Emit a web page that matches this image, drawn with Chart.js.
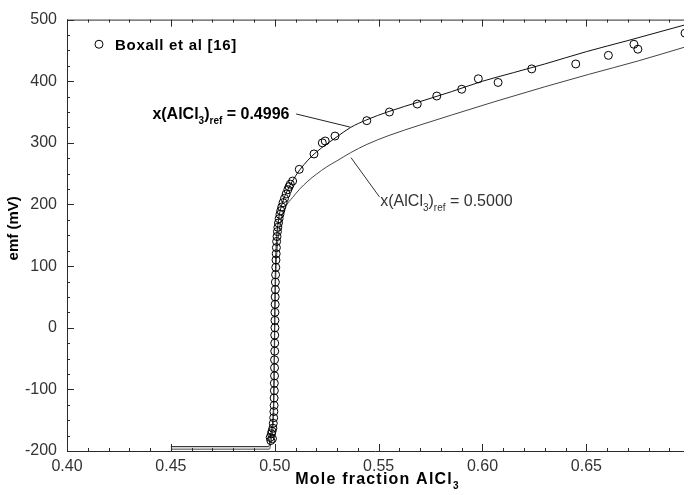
<!DOCTYPE html>
<html><head><meta charset="utf-8">
<script src="https://cdn.jsdelivr.net/npm/chart.js@4.4.1/dist/chart.umd.min.js"></script>
<style>html,body{margin:0;padding:0;background:#fff;overflow:hidden}canvas{display:block}</style>
</head><body>
<canvas id="c" width="689" height="495"></canvas>
<script>
// ---- data ----
const xTickLabels = ['0.40','0.45','0.50','0.55','0.60','0.65'];
const yTickLabels = ['-200','-100','0','100','200','300','400','500'];

const boxallX = [0.4978,0.4981,0.4984,0.4987,0.4989,0.4991,0.4993,0.4995,0.4996,0.4997,0.4997,0.4998,0.4998,0.4999,0.4999,0.4999,0.5000,0.5000,0.5000,0.5001,0.5001,0.5001,0.5002,0.5002,0.5003,0.5003,0.5004,0.5005,0.5006,0.5007,0.5008,0.5009,0.5011,0.5013,0.5015,0.5018,0.5021,0.5025,0.5029,0.5034,0.5040,0.5047,0.5055,0.5063,0.5069,0.5075,0.5086,0.5118,0.5189,0.5229,0.5243,0.5290,0.5443,0.5552,0.5686,0.5780,0.5900,0.5980,0.6075,0.6237,0.6449,0.6606,0.6729,0.6748,0.6975];
const boxallY = [-178,-183,-172,-168,-180,-163,-155,-146,-136,-126,-114,-102,-90,-78,-65,-52,-38,-25,-12,0,12,25,38,50,62,74,86,98,110,120,130,140,148,156,163,170,177,184,190,196,203,210,217,224,229,233,238,257,282,300,303,311,336,350,363,376,387,404,398,420,428,442,460,452,478];

const fitUpperX = [0.4500,0.4970,0.4974,0.4978,0.4984,0.4990,0.4994,0.4997,0.4999,0.5001,0.5003,0.5006,0.5010,0.5016,0.5025,0.5040,0.5060,0.5085,0.5120,0.5160,0.5200,0.5250,0.5300,0.5365,0.5440,0.5550,0.5700,0.5850,0.6000,0.6150,0.6300,0.6500,0.6700,0.6970];
const fitUpperY = [-193,-193,-190,-180,-168,-152,-125,-60,0,50,90,125,150,170,188,206,222,238,256,272,285,298,310,325,337,351,367,383,400,414,428,448,466,491];

const fitLowerX = [0.4500,0.4974,0.4980,0.4986,0.4992,0.4996,0.4999,0.5001,0.5003,0.5006,0.5010,0.5016,0.5025,0.5035,0.5055,0.5085,0.5120,0.5160,0.5200,0.5250,0.5300,0.5365,0.5440,0.5550,0.5700,0.5850,0.6060,0.6300,0.6510,0.6750,0.6970];
const fitLowerY = [-197,-197,-190,-178,-160,-120,-40,20,60,95,122,145,165,181,198,211,225,238,249,261,271,284,297,312,329,345,367,391,411,433,455];

// ---- helpers ----
const FONT = '"Liberation Sans", Arial, sans-serif';
const toPts = (xs, ys) => xs.map((x, i) => ({x, y: ys[i]}));

function drawRich(ctx, parts, x, y, size, weight, color, spacing) {
  ctx.fillStyle = color;
  ctx.textAlign = 'left';
  ctx.textBaseline = 'alphabetic';
  let cx = x;
  for (const p of parts) {
    const s = p.sub ? Math.round(size * 0.65) : size;
    ctx.font = weight + ' ' + s + 'px ' + FONT;
    if ('letterSpacing' in ctx) ctx.letterSpacing = (spacing || 0) + 'px';
    ctx.fillText(p.t, cx, y + (p.sub ? size * 0.3 : 0));
    cx += ctx.measureText(p.t).width;
  }
  if ('letterSpacing' in ctx) ctx.letterSpacing = '0px';
  return cx - x;
}
function richWidth(ctx, parts, size, weight, spacing) {
  let w = 0;
  for (const p of parts) {
    const s = p.sub ? Math.round(size * 0.65) : size;
    ctx.font = weight + ' ' + s + 'px ' + FONT;
    if ('letterSpacing' in ctx) ctx.letterSpacing = (spacing || 0) + 'px';
    w += ctx.measureText(p.t).width;
  }
  if ('letterSpacing' in ctx) ctx.letterSpacing = '0px';
  return w;
}

const frame = {
  id: 'frame',
  afterDraw(chart) {
    const {ctx, chartArea: a, scales: {x, y}} = chart;
    ctx.save();
    ctx.strokeStyle = '#2a2a2a';
    ctx.lineWidth = 1;
    ctx.beginPath();
    ctx.moveTo(a.left + 0.5, a.top); ctx.lineTo(a.left + 0.5, a.bottom + 1);
    ctx.moveTo(a.left, a.bottom + 0.5); ctx.lineTo(a.right, a.bottom + 0.5);
    ctx.moveTo(a.left, a.top + 0.5); ctx.lineTo(a.right, a.top + 0.5);
    // x ticks (minor 0.01, major 0.05), inward bottom & top
    for (let i = 0; ; i++) {
      const v = x.min + i * 0.01;
      if (v > x.max + 1e-9) break;
      const px = Math.round(x.getPixelForValue(v)) + 0.5;
      const L = (i % 5 === 0) ? 7 : 3;
      ctx.moveTo(px, a.bottom); ctx.lineTo(px, a.bottom - L);
      ctx.moveTo(px, a.top); ctx.lineTo(px, a.top + L);
    }
    // y ticks (minor 25, major 100), inward left
    for (let v = y.min; v <= y.max + 1e-9; v += 25) {
      const py = Math.round(y.getPixelForValue(v)) + 0.5;
      const L = (Math.round(v) % 100 === 0) ? 7 : 3;
      ctx.moveTo(a.left, py); ctx.lineTo(a.left + L, py);
    }
    ctx.stroke();

    // legend
    const lx = x.getPixelForValue(0.4154), ly = y.getPixelForValue(460);
    ctx.beginPath(); ctx.strokeStyle = '#000'; ctx.arc(lx, ly, 4, 0, Math.PI * 2); ctx.stroke();
    drawRich(ctx, [{t: 'Boxall et al [16]'}], lx + 16, ly + 5.5, 15, 'bold', '#000', 0.7);

    // annotation 1 (x_ref = 0.4996)
    const a1x = x.getPixelForValue(0.4411), a1y = y.getPixelForValue(348.5);
    drawRich(ctx, [{t: 'x(AlCl'}, {t: '3', sub: true}, {t: ')'}, {t: 'ref', sub: true}, {t: ' = 0.4996'}], a1x, a1y + 5.8, 16, 'bold', '#000', 0);
    ctx.beginPath(); ctx.strokeStyle = '#222';
    ctx.moveTo(x.getPixelForValue(0.5103), y.getPixelForValue(346.9));
    ctx.lineTo(x.getPixelForValue(0.5365), y.getPixelForValue(325.4));
    ctx.stroke();

    // annotation 2 (x_ref = 0.5000)
    const a2x = x.getPixelForValue(0.5508), a2y = y.getPixelForValue(206.9);
    drawRich(ctx, [{t: 'x(AlCl'}, {t: '3', sub: true}, {t: ')'}, {t: 'ref', sub: true}, {t: ' = 0.5000'}], a2x, a2y + 5.8, 16, 'normal', '#333', 0);
    ctx.beginPath(); ctx.strokeStyle = '#333';
    ctx.moveTo(x.getPixelForValue(0.5367), y.getPixelForValue(276));
    ctx.lineTo(x.getPixelForValue(0.5504), y.getPixelForValue(212.3));
    ctx.stroke();

    // x axis title
    const xt = [{t: 'Mole fraction AlCl'}, {t: '3', sub: true}];
    const xw = richWidth(ctx, xt, 16, 'bold', 1.2);
    drawRich(ctx, xt, (a.left + a.right) / 2 + 2 - xw / 2, 484, 16, 'bold', '#000', 1.2);

    // y axis title
    ctx.save();
    ctx.translate(14, (a.top + a.bottom) / 2 - 7);
    ctx.rotate(-Math.PI / 2);
    ctx.font = 'bold 15px ' + FONT;
    ctx.fillStyle = '#000';
    ctx.textAlign = 'center';
    ctx.textBaseline = 'middle';
    ctx.fillText('emf (mV)', 0, 0);
    ctx.restore();

    ctx.restore();
  }
};

new Chart(document.getElementById('c'), {
  type: 'scatter',
  data: {
    datasets: [
      {label: 'x(AlCl3)ref = 0.4996', data: toPts(fitUpperX, fitUpperY), showLine: true, borderColor: '#111', borderWidth: 1, pointRadius: 0, cubicInterpolationMode: 'monotone', order: 3},
      {label: 'x(AlCl3)ref = 0.5000', data: toPts(fitLowerX, fitLowerY), showLine: true, borderColor: '#444', borderWidth: 1, pointRadius: 0, cubicInterpolationMode: 'monotone', order: 2},
      {label: 'Boxall et al [16]', data: toPts(boxallX, boxallY), showLine: false, pointRadius: 4, pointBorderWidth: 1, pointBorderColor: '#000', pointBackgroundColor: 'rgba(0,0,0,0)', order: 1}
    ]
  },
  options: {
    responsive: false,
    animation: false,
    devicePixelRatio: 1,
    layout: {padding: {left: 0, right: 0, top: 18, bottom: 0}},
    plugins: {legend: {display: false}, tooltip: {enabled: false}},
    scales: {
      x: {
        type: 'linear', min: 0.40, max: 0.697,
        afterBuildTicks: s => { s.ticks = xTickLabels.map(t => ({value: parseFloat(t)})); },
        afterFit: s => { s.height = 44; },
        ticks: {
          callback: v => xTickLabels.find(t => Math.abs(parseFloat(t) - v) < 1e-6) || '',
          font: {family: FONT, size: 16}, color: '#333', padding: 6, maxRotation: 0, autoSkip: false, includeBounds: false
        },
        grid: {display: false, drawTicks: false},
        border: {display: false}
      },
      y: {
        type: 'linear', min: -200, max: 500,
        afterBuildTicks: s => { s.ticks = yTickLabels.map(t => ({value: parseFloat(t)})); },
        afterFit: s => { s.width = 67; },
        ticks: {
          callback: v => yTickLabels.find(t => Math.abs(parseFloat(t) - v) < 1e-6) || '',
          font: {family: FONT, size: 16}, color: '#333', padding: 10, autoSkip: false, includeBounds: false
        },
        grid: {display: false, drawTicks: false},
        border: {display: false}
      }
    }
  },
  plugins: [frame]
});
</script>
</body></html>
